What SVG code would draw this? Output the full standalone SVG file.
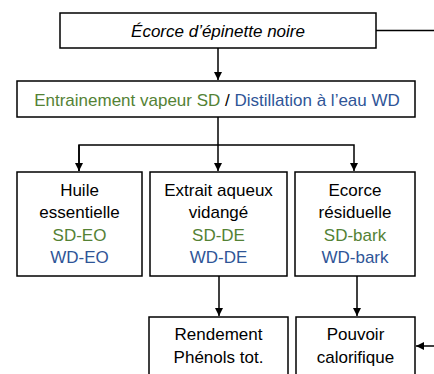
<svg xmlns="http://www.w3.org/2000/svg" width="434" height="374" viewBox="0 0 434 374">
<style>
.box{fill:#fff;stroke:#000;stroke-width:1.5}
.t{font-family:"Liberation Sans",Arial,sans-serif;font-size:17px;fill:#000;text-anchor:middle}
.g{fill:#548235}
.b{fill:#2F5597}
.c{fill:none;stroke:#000;stroke-width:1.5}
</style>
<defs>
<marker id="ah" viewBox="0 0 10 10" refX="10" refY="5" markerWidth="8" markerHeight="8" markerUnits="userSpaceOnUse" orient="auto">
<path d="M0,0 L10,5 L0,10 z" fill="#000"/>
</marker>
</defs>
<rect width="434" height="374" fill="#fff"/>
<g id="connectors">
<path class="c" d="M376,30.5 H434"/>
<path class="c" d="M218,48 V80" marker-end="url(#ah)"/>
<path class="c" d="M218,117 V171" marker-end="url(#ah)"/>
<path class="c" d="M79,171 V145 H354 V171" marker-end="url(#ah)"/>
<path class="c" d="M79,145 V171" marker-end="url(#ah)"/>
<path class="c" d="M219,276 V316" marker-end="url(#ah)"/>
<path class="c" d="M357,276 V316" marker-end="url(#ah)"/>
<path class="c" d="M434,346 H416" marker-end="url(#ah)"/>
</g>
<g id="source">
<rect class="box" x="60" y="13" width="316" height="35"/>
<text class="t" x="218" y="36.5" font-style="italic">Écorce d’épinette noire</text>
</g>
<g id="process">
<rect class="box" x="17" y="81" width="398" height="36"/>
<text class="t" x="217" y="105.5" font-size="18"><tspan class="g">Entrainement vapeur SD</tspan> / <tspan class="b">Distillation à l’eau WD</tspan></text>
</g>
<g id="huile">
<rect class="box" x="17" y="172" width="125" height="104"/>
<text class="t" x="79.5" y="196">Huile</text>
<text class="t" x="79.5" y="218">essentielle</text>
<text class="t g" x="79.5" y="241">SD-EO</text>
<text class="t b" x="79.5" y="263">WD-EO</text>
</g>
<g id="extrait">
<rect class="box" x="150" y="172" width="137" height="104"/>
<text class="t" x="218.5" y="196">Extrait aqueux</text>
<text class="t" x="218.5" y="218">vidangé</text>
<text class="t g" x="218.5" y="241">SD-DE</text>
<text class="t b" x="218.5" y="263">WD-DE</text>
</g>
<g id="ecorce">
<rect class="box" x="295" y="172" width="120" height="104"/>
<text class="t" x="355" y="196">Ecorce</text>
<text class="t" x="355" y="218">résiduelle</text>
<text class="t g" x="355" y="241">SD-bark</text>
<text class="t b" x="355" y="263">WD-bark</text>
</g>
<g id="rendement">
<rect class="box" x="149" y="317" width="139" height="70"/>
<text class="t" x="218.5" y="340">Rendement</text>
<text class="t" x="218.5" y="363">Phénols tot.</text>
</g>
<g id="pouvoir">
<rect class="box" x="296" y="317" width="119" height="70"/>
<text class="t" x="355.5" y="340">Pouvoir</text>
<text class="t" x="355.5" y="363">calorifique</text>
</g>
</svg>
